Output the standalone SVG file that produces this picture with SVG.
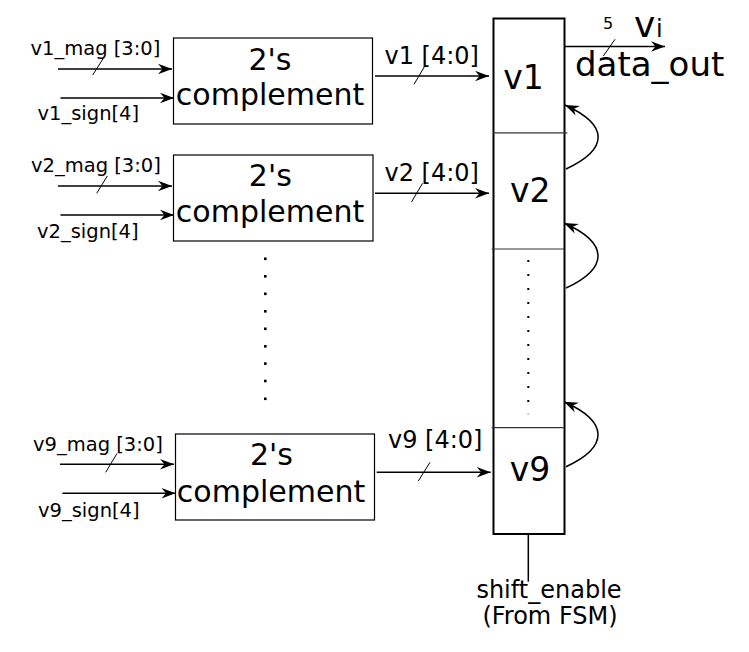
<svg xmlns="http://www.w3.org/2000/svg" width="749" height="652" viewBox="0 0 749 652">
<defs>
<style>
text{font-family:"DejaVu Sans","Liberation Sans",sans-serif;fill:#000}
.box{fill:#fff;stroke:#000;stroke-width:1.2}
.big{font-size:30px;text-anchor:middle}
.reg{font-size:33px;text-anchor:middle}
.sig{font-size:19.5px}
.bus{font-size:24px}
.w{fill:none;stroke:#000;stroke-width:1.5}
.arr{marker-end:url(#ah)}
.sl{stroke:#000;stroke-width:1}
.div{stroke:#333;stroke-width:1.2}
</style>
<marker id="ah" markerUnits="userSpaceOnUse" markerWidth="20" markerHeight="14" viewBox="-16 -7 18 14" refX="0" refY="0" orient="auto">
<path d="M0,0 L-14,-5.2 L-9.5,0 L-14,5.2 Z" fill="#000"/>
</marker>
</defs>

<g id="connectors">
<line class="w arr" x1="58" y1="69" x2="172" y2="69"/>
<line class="sl" x1="92.7" y1="75" x2="103.3" y2="58.3"/>
<line class="w arr" x1="60.5" y1="98" x2="174" y2="98"/>
<line class="w arr" x1="375" y1="76" x2="489" y2="76"/>
<line class="sl" x1="414" y1="84.3" x2="425" y2="65.7"/>
<line class="w arr" x1="58" y1="186" x2="172" y2="186"/>
<line class="sl" x1="96.7" y1="193.3" x2="107.3" y2="176"/>
<line class="w arr" x1="60.5" y1="215" x2="174" y2="215"/>
<line class="w arr" x1="375" y1="193.3" x2="489" y2="193.3"/>
<line class="sl" x1="411.5" y1="202" x2="422.5" y2="183.3"/>
<line class="w arr" x1="60" y1="464.3" x2="174" y2="464.3"/>
<line class="sl" x1="105.7" y1="472.3" x2="117" y2="453.5"/>
<line class="w arr" x1="62.5" y1="493.3" x2="175.5" y2="493.3"/>
<line class="w arr" x1="376.7" y1="472.3" x2="490.7" y2="472.3"/>
<line class="sl" x1="418.3" y1="481" x2="430" y2="462.3"/>
<line class="w arr" x1="565" y1="46.5" x2="665" y2="46.5"/>
<line class="sl" x1="603.3" y1="56" x2="615" y2="39.3"/>
<path class="w arr" d="M566,169 C609,149 609,125 565,105"/>
<path class="w arr" d="M566,288 C609,268 609,243 564,223"/>
<path class="w arr" d="M566,466.7 C609,446.7 609,421.7 564,401.7"/>
<line class="w" x1="528.3" y1="534" x2="528.3" y2="581.7"/>
</g>

<g id="box1">
<rect class="box" x="173.5" y="38" width="199" height="86"/>
<text class="big" x="270" y="70">2's</text>
<text class="big" x="270" y="105">complement</text>
</g>
<g id="box2">
<rect class="box" x="173.5" y="155" width="199.5" height="86"/>
<text class="big" x="270.3" y="186">2's</text>
<text class="big" x="270" y="222">complement</text>
</g>
<g id="box9">
<rect class="box" x="175.5" y="434" width="199" height="86"/>
<text class="big" x="271.5" y="465">2's</text>
<text class="big" x="271" y="501.7">complement</text>
</g>

<g id="register">
<rect x="493.5" y="18.5" width="71" height="515.5" fill="#fff" stroke="#000" stroke-width="2"/>
<line class="div" x1="493" y1="132.8" x2="567.3" y2="132.8"/>
<line class="div" x1="491.7" y1="249" x2="564" y2="249"/>
<line class="div" x1="491.7" y1="427.7" x2="563.5" y2="427.7"/>
<text class="reg" x="523.5" y="89">v1</text>
<text class="reg" x="530.3" y="202">v2</text>
<text class="reg" x="530" y="481">v9</text>
<g fill="#000">
<rect x="527.3" y="260" width="2" height="2"/>
<rect x="527.3" y="274" width="2" height="2"/>
<rect x="527.3" y="288" width="2" height="2"/>
<rect x="527.3" y="302" width="2" height="2"/>
<rect x="527.3" y="316" width="2" height="2"/>
<rect x="527.3" y="330" width="2" height="2"/>
<rect x="527.3" y="344" width="2" height="2"/>
<rect x="527.3" y="358" width="2" height="2"/>
<rect x="527.3" y="372" width="2" height="2"/>
<rect x="527.3" y="386" width="2" height="2"/>
<rect x="527.3" y="400" width="2" height="2"/>
<rect x="527.3" y="413.5" width="2" height="1" fill="#999"/>
</g>
</g>

<g id="dots">
<rect x="264" y="257.5" width="2.6" height="2.6"/>
<rect x="264" y="275" width="2.6" height="2.6"/>
<rect x="264" y="292.5" width="2.6" height="2.6"/>
<rect x="264" y="310" width="2.6" height="2.6"/>
<rect x="264" y="327.5" width="2.6" height="2.6"/>
<rect x="264" y="345" width="2.6" height="2.6"/>
<rect x="264" y="362.3" width="2.6" height="2.6"/>
<rect x="264" y="379.7" width="2.6" height="2.6"/>
<rect x="264" y="397.5" width="2.6" height="2.6"/>
</g>

<g id="labels">
<text class="sig" x="30.5" y="55">v1_mag [3:0]</text>
<text class="sig" x="37.5" y="120">v1_sign[4]</text>
<text class="sig" x="31" y="172">v2_mag [3:0]</text>
<text class="sig" x="37" y="238">v2_sign[4]</text>
<text class="sig" x="33" y="451">v9_mag [3:0]</text>
<text class="sig" x="38" y="517">v9_sign[4]</text>
<text class="bus" x="384.5" y="64">v1 [4:0]</text>
<text class="bus" x="384.5" y="181">v2 [4:0]</text>
<text class="bus" x="388" y="448">v9 [4:0]</text>
<text x="608" y="28.5" font-size="16" text-anchor="middle">5</text>
<text x="634" y="36.5" font-size="36">v</text>
<text x="656" y="36.5" font-size="24">i</text>
<text x="575" y="76" font-size="34">data_out</text>
<text x="549" y="597.5" font-size="24" text-anchor="middle">shift_enable</text>
<text x="550" y="624" font-size="24" text-anchor="middle">(From FSM)</text>
</g>
</svg>
